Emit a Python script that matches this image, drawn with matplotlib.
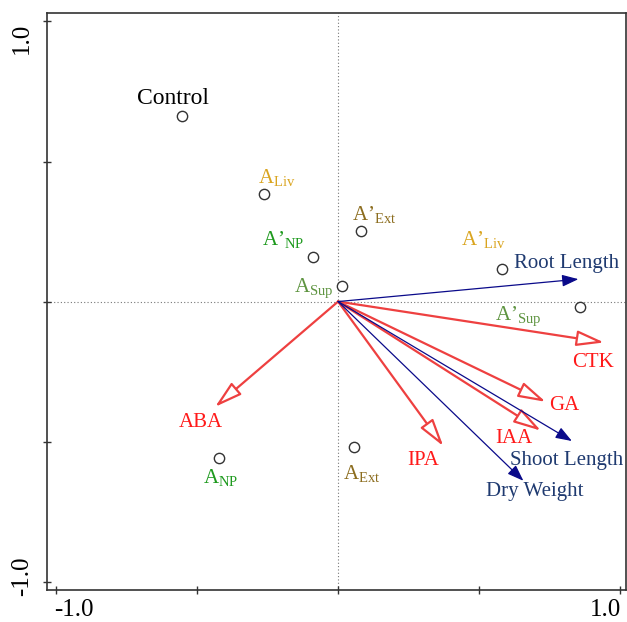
import matplotlib
matplotlib.use("Agg")
import matplotlib.pyplot as plt
from matplotlib.patches import FancyArrowPatch

plt.rcParams['font.family'] = ['Liberation Serif', 'DejaVu Serif']
plt.rcParams['mathtext.fontset'] = 'custom'
plt.rcParams['mathtext.rm'] = 'Liberation Serif'
plt.rcParams['mathtext.it'] = 'Liberation Serif:italic'

# sample scores
samples = ["Control", "A$_{\\mathrm{Liv}}$", "A’$_{\\mathrm{NP}}$", "A$_{\\mathrm{Sup}}$",
           "A’$_{\\mathrm{Ext}}$", "A’$_{\\mathrm{Liv}}$", "A’$_{\\mathrm{Sup}}$",
           "A$_{\\mathrm{NP}}$", "A$_{\\mathrm{Ext}}$"]
sample_x = [-0.553, -0.261, -0.090, 0.013, 0.082, 0.580, 0.856, -0.421, 0.058]
sample_y = [0.663, 0.384, 0.160, 0.056, 0.253, 0.115, -0.021, -0.560, -0.521]
sample_lab_x = [-0.714, -0.284, -0.271, -0.158, 0.049, 0.436, 0.557, -0.478, 0.019]
sample_lab_y = [0.705, 0.422, 0.202, 0.035, 0.291, 0.202, -0.066, -0.649, -0.634]
sample_col = ["black", "#DAA520", "#1E9A1E", "#5E9440", "#8C6D1F", "#DAA520",
              "#5E9440", "#1E9A1E", "#8C6D1F"]

# hormone vectors (red, open heads)
hormones = ["CTK", "GA", "IAA", "IPA", "ABA"]
hormone_x = [0.943, 0.736, 0.719, 0.373, -0.436]
hormone_y = [-0.146, -0.358, -0.461, -0.516, -0.376]
hormone_lab_x = [0.829, 0.749, 0.557, 0.247, -0.566]
hormone_lab_y = [-0.233, -0.3875, -0.504, -0.584, -0.447]

# growth vectors (navy, filled heads)
growth = ["Root Length", "Shoot Length", "Dry Weight"]
growth_x = [0.852, 0.829, 0.657]
growth_y = [0.080, -0.498, -0.640]
growth_lab_x = [0.622, 0.610, 0.525]
growth_lab_y = [0.119, -0.584, -0.695]

fig = plt.figure(figsize=(6.27, 6.22), dpi=100)
ax = fig.add_axes([0.0745, 0.0514, 0.924, 0.928])
ax.set_xlim(-1.033, 1.021)
ax.set_ylim(-1.030, 1.031)

ax.axhline(0, color="#777777", lw=0.8, ls=(0, (1, 2)), zorder=1)
ax.axvline(0, color="#777777", lw=0.8, ls=(0, (1, 2)), zorder=1)

for x, y in zip(hormone_x, hormone_y):
    ax.add_patch(FancyArrowPatch((0, 0), (x, y), arrowstyle="-|>,head_length=1.2,head_width=0.34",
                                 mutation_scale=14, lw=1.6, ec="#EE4040", fc="white",
                                 shrinkA=0, shrinkB=0, zorder=3))
for x, y in zip(growth_x, growth_y):
    ax.add_patch(FancyArrowPatch((0, 0), (x, y), arrowstyle="-|>,head_length=1.1,head_width=0.4",
                                 mutation_scale=9, lw=0.9, ec="#0A0A8A", fc="#0A0A8A",
                                 shrinkA=0, shrinkB=0, zorder=3))

ax.scatter(sample_x, sample_y, s=55, facecolors="white", edgecolors="#333333",
           linewidths=1.0, zorder=4)

for lab, x, y, c in zip(samples, sample_lab_x, sample_lab_y, sample_col):
    fs = 17 if lab == "Control" else 15
    ax.text(x, y, lab, color=c, fontsize=fs, ha="left", va="baseline", zorder=5)
for lab, x, y in zip(hormones, hormone_lab_x, hormone_lab_y):
    ax.text(x, y, lab, color="#FF1A1A", fontsize=15, ha="left", va="baseline", zorder=5)
for lab, x, y in zip(growth, growth_lab_x, growth_lab_y):
    ax.text(x, y, lab, color="#1F3A70", fontsize=15, ha="left", va="baseline", zorder=5)

ticks = [-1.0, -0.5, 0.0, 0.5, 1.0]
ax.set_xticks(ticks)
ax.set_yticks(ticks)
ax.set_xticklabels([])
ax.set_yticklabels([])
ax.tick_params(direction="inout", length=6, width=1.0, color="#333333")
for s in ax.spines.values():
    s.set_linewidth(1.2)
    s.set_color("#333333")

xt = ax.get_xaxis_transform()
yt = ax.get_yaxis_transform()
ax.text(-1.007, -0.016, "-1.0", transform=xt, ha="left", va="top", fontsize=18)
ax.text(1.003, -0.016, "1.0", transform=xt, ha="right", va="top", fontsize=18)
ax.text(-0.0426, 0.94, "1.0", transform=yt, ha="center", va="center", rotation=90, fontsize=18)
ax.text(-0.0426, -0.98, "-1.0", transform=yt, ha="center", va="center", rotation=90, fontsize=18)

fig.savefig("out.png", dpi=100)
